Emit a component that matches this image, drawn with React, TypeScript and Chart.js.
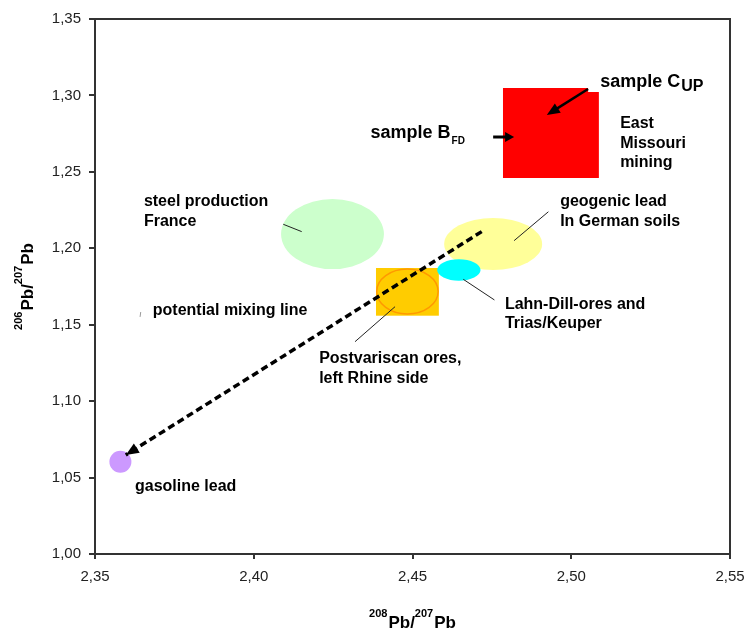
import React, { useEffect, useRef } from "react";
import { Chart, registerables } from "chart.js";

Chart.register(...registerables);

// ---- axes ----
const xTicks = [2.35, 2.4, 2.45, 2.5, 2.55];
const yTicks = [1.0, 1.05, 1.1, 1.15, 1.2, 1.25, 1.3, 1.35];

// ---- isotope fields: [centre 208/207, centre 206/207, half-width, half-height] ----
const steelFrance = [2.4248, 1.2093, 0.0162, 0.0229];
const geogenicSoils = [2.4754, 1.2028, 0.01543, 0.01701];
const lahnDill = [2.4646, 1.1858, 0.00683, 0.007];
const gasoline = [2.358, 1.0604, 0.003465, 0.0072];
const postvariscanEllipse = [2.4484, 1.1717, 0.00967, 0.01472];
// rectangular fields: [x min, x max, y min, y max]
const postvariscanBox = [2.4385, 2.4583, 1.1559, 1.1871];
// East Missouri mining polygon (x, y)
const eastMissouriX = [2.4785, 2.5053, 2.5053, 2.5087, 2.5087, 2.4785];
const eastMissouriY = [1.3049, 1.3049, 1.3022, 1.3022, 1.246, 1.246];

// ---- potential mixing line (start, end = gasoline lead) ----
const mixingX = [2.4718, 2.3597];
const mixingY = [1.2109, 1.0648];

// ---- sample arrows [x1, y1, x2, y2] ----
const arrowSampleC = [2.5053, 1.3042, 2.4923, 1.2872];
const arrowSampleB = [2.4754, 1.2728, 2.482, 1.2728];

// ---- leader lines [x1, y1, x2, y2] ----
const leaderSteel = [2.4093, 1.2157, 2.4151, 1.2109];
const leaderGeogenic = [2.4928, 1.2239, 2.482, 1.205];
const leaderLahn = [2.4758, 1.1662, 2.466, 1.1797];
const leaderPostvariscan = [2.4319, 1.1389, 2.4445, 1.1618];
const leaderMixing = [2.3644, 1.1583, 2.3642, 1.1551];

// ---- text labels: anchor (x, y) of first baseline ----
const labelTexts = [
  ["steel production", "France"],
  ["potential mixing line"],
  ["geogenic lead", "In German soils"],
  ["Lahn-Dill-ores and", "Trias/Keuper"],
  ["Postvariscan ores,", "left Rhine side"],
  ["gasoline lead"],
  ["East", "Missouri", "mining"],
];
const labelX = [2.3654, 2.3682, 2.4965, 2.4791, 2.4206, 2.3626, 2.5154];
const labelY = [1.2277, 1.1564, 1.2277, 1.1603, 1.1248, 1.0412, 1.2785];
const labelLineGap = [20.5, 0, 20, 19.5, 20, 0, 19.5];

const sampleCAnchor = [2.5091, 1.3057];
const sampleBAnchor = [2.4368, 1.272];

const FONT = '"Liberation Sans", Arial, Helvetica, sans-serif';
const fmt = (v: number) => v.toFixed(2).replace(".", ",");

function arrowHead(ctx: CanvasRenderingContext2D, x1: number, y1: number, x2: number, y2: number, len: number, wid: number) {
  const a = Math.atan2(y2 - y1, x2 - x1);
  const bx = x2 - len * Math.cos(a);
  const by = y2 - len * Math.sin(a);
  const nx = -Math.sin(a) * wid / 2;
  const ny = Math.cos(a) * wid / 2;
  ctx.beginPath();
  ctx.moveTo(x2, y2);
  ctx.lineTo(bx + nx, by + ny);
  ctx.lineTo(bx - nx, by - ny);
  ctx.closePath();
  ctx.fill();
}

const fieldsPlugin = {
  id: "fields",
  beforeDatasetsDraw(chart: any) {
    const { ctx, chartArea, scales } = chart;
    const X = (v: number) => scales.x.getPixelForValue(v);
    const Y = (v: number) => scales.y.getPixelForValue(v);
    ctx.save();
    ctx.beginPath();
    ctx.rect(chartArea.left, chartArea.top, chartArea.right - chartArea.left, chartArea.bottom - chartArea.top);
    ctx.clip();
    const ell = (f: number[], fill: string | null, stroke?: string) => {
      const cx = X(f[0]), cy = Y(f[1]);
      const rx = Math.abs(X(f[0] + f[2]) - cx), ry = Math.abs(Y(f[1] + f[3]) - cy);
      ctx.beginPath();
      ctx.ellipse(cx, cy, rx, ry, 0, 0, Math.PI * 2);
      if (fill) { ctx.fillStyle = fill; ctx.fill(); }
      if (stroke) { ctx.strokeStyle = stroke; ctx.lineWidth = 1.5; ctx.stroke(); }
    };
    ell(steelFrance, "#CCFFCC");
    ell(geogenicSoils, "#FFFF99");
    // Postvariscan box + ellipse
    ctx.fillStyle = "#FFCC00";
    const bx0 = X(postvariscanBox[0]), bx1 = X(postvariscanBox[1]);
    const by0 = Y(postvariscanBox[3]), by1 = Y(postvariscanBox[2]);
    ctx.fillRect(bx0, by0, bx1 - bx0, by1 - by0);
    ell(postvariscanEllipse, null, "#FF9900");
    ell(lahnDill, "#00FFFF");
    // East Missouri
    ctx.beginPath();
    eastMissouriX.forEach((v, i) => {
      if (i === 0) ctx.moveTo(X(v), Y(eastMissouriY[i]));
      else ctx.lineTo(X(v), Y(eastMissouriY[i]));
    });
    ctx.closePath();
    ctx.fillStyle = "#FF0000";
    ctx.fill();
    ell(gasoline, "#CC99FF");
    ctx.restore();
  },
  afterDatasetsDraw(chart: any) {
    const { ctx, chartArea, scales } = chart;
    const X = (v: number) => scales.x.getPixelForValue(v);
    const Y = (v: number) => scales.y.getPixelForValue(v);
    ctx.save();
    // mixing line arrowhead
    ctx.fillStyle = "#000";
    arrowHead(ctx, X(mixingX[0]), Y(mixingY[0]), X(mixingX[1]), Y(mixingY[1]), 13, 11);

    // leader lines
    ctx.strokeStyle = "#222";
    ctx.lineWidth = 1;
    [leaderSteel, leaderGeogenic, leaderLahn, leaderPostvariscan].forEach((l) => {
      ctx.beginPath();
      ctx.moveTo(X(l[0]), Y(l[1]));
      ctx.lineTo(X(l[2]), Y(l[3]));
      ctx.stroke();
    });
    ctx.strokeStyle = "#999";
    ctx.beginPath();
    ctx.moveTo(X(leaderMixing[0]), Y(leaderMixing[1]));
    ctx.lineTo(X(leaderMixing[2]), Y(leaderMixing[3]));
    ctx.stroke();

    // sample arrows
    const drawArrow = (a: number[], lw: number, len: number, wid: number) => {
      const x1 = X(a[0]), y1 = Y(a[1]), x2 = X(a[2]), y2 = Y(a[3]);
      const ang = Math.atan2(y2 - y1, x2 - x1);
      ctx.strokeStyle = "#000";
      ctx.lineWidth = lw;
      ctx.beginPath();
      ctx.moveTo(x1, y1);
      ctx.lineTo(x2 - (len - 2) * Math.cos(ang), y2 - (len - 2) * Math.sin(ang));
      ctx.stroke();
      ctx.fillStyle = "#000";
      arrowHead(ctx, x1, y1, x2, y2, len, wid);
    };
    drawArrow(arrowSampleC, 2.5, 13, 11);
    drawArrow(arrowSampleB, 3, 9, 10);

    // labels
    ctx.fillStyle = "#000";
    ctx.textAlign = "left";
    ctx.textBaseline = "alphabetic";
    ctx.font = `bold 16px ${FONT}`;
    labelTexts.forEach((lines, i) => {
      const x = X(labelX[i]);
      const y = Y(labelY[i]);
      lines.forEach((t, j) => ctx.fillText(t, x, y + j * labelLineGap[i]));
    });
    // sample C_UP
    let sx = X(sampleCAnchor[0]);
    let sy = Y(sampleCAnchor[1]);
    ctx.font = `bold 18px ${FONT}`;
    ctx.fillText("sample C", sx, sy);
    sx += ctx.measureText("sample C").width + 1;
    ctx.font = `bold 16px ${FONT}`;
    ctx.fillText("UP", sx, sy + 4);
    // sample B_FD
    sx = X(sampleBAnchor[0]);
    sy = Y(sampleBAnchor[1]);
    ctx.font = `bold 18px ${FONT}`;
    ctx.fillText("sample B", sx, sy);
    sx += ctx.measureText("sample B").width + 1;
    ctx.font = `bold 10px ${FONT}`;
    ctx.fillText("FD", sx, sy + 6);

    // frame top & right
    ctx.strokeStyle = "#333";
    ctx.lineWidth = 2;
    ctx.beginPath();
    ctx.moveTo(chartArea.left, chartArea.top);
    ctx.lineTo(chartArea.right, chartArea.top);
    ctx.lineTo(chartArea.right, chartArea.bottom);
    ctx.stroke();
    ctx.restore();
  },
  afterDraw(chart: any) {
    const { ctx, chartArea } = chart;
    const parts: [string, boolean][] = [["208", true], ["Pb/", false], ["207", true], ["Pb", false]];
    const partsY: [string, boolean][] = [["206", true], ["Pb/", false], ["207", true], ["Pb", false]];
    const big = `bold 17px ${FONT}`;
    const small = `bold 11px ${FONT}`;
    const measure = (p: [string, boolean][]) => {
      let w = 0;
      p.forEach(([t, s]) => { ctx.font = s ? small : big; w += ctx.measureText(t).width + (s ? 1 : 0); });
      return w;
    };
    const drawParts = (p: [string, boolean][], x0: number, base: number) => {
      let x = x0;
      p.forEach(([t, s]) => {
        ctx.font = s ? small : big;
        ctx.fillText(t, x, s ? base - 11 : base);
        x += ctx.measureText(t).width + (s ? 1 : 0);
      });
    };
    ctx.save();
    ctx.fillStyle = "#000";
    ctx.textAlign = "left";
    ctx.textBaseline = "alphabetic";
    const cx = (chartArea.left + chartArea.right) / 2;
    const w = measure(parts);
    drawParts(parts, cx - w / 2, chartArea.bottom + 73.5);
    const cy = (chartArea.top + chartArea.bottom) / 2;
    const wy = measure(partsY);
    ctx.translate(32.5, cy + wy / 2);
    ctx.rotate(-Math.PI / 2);
    drawParts(partsY, 0, 0);
    ctx.restore();
  },
};

export default function App() {
  const ref = useRef<HTMLCanvasElement | null>(null);
  useEffect(() => {
    if (!ref.current) return;
    const tickFont = { family: FONT, size: 15 };
    const chart = new Chart(ref.current, {
      type: "scatter",
      data: {
        datasets: [
          {
            data: mixingX.map((x, i) => ({ x, y: mixingY[i] })),
            showLine: true,
            borderColor: "#000",
            borderWidth: 3.5,
            borderDash: [7, 4],
            pointRadius: 0,
            fill: false,
          } as any,
        ],
      },
      options: {
        responsive: false,
        animation: false,
        devicePixelRatio: 1,
        layout: { padding: { top: 19, right: 17, left: 0, bottom: 0 } },
        plugins: { legend: { display: false }, tooltip: { enabled: false } },
        scales: {
          x: {
            type: "linear",
            min: 2.35,
            max: 2.55,
            afterBuildTicks: (s: any) => { s.ticks = xTicks.map((v) => ({ value: v })); },
            afterFit: (s: any) => { s.height = 77; s.paddingRight = 0; s.paddingLeft = 0; },
            grid: { drawOnChartArea: false, drawTicks: true, tickLength: 5, color: "#333", lineWidth: 2 },
            border: { display: true, color: "#333", width: 2 },
            ticks: { font: tickFont, color: "#222", padding: 9, maxRotation: 0, autoSkip: false, callback: (v: any) => fmt(Number(v)) },
          },
          y: {
            type: "linear",
            min: 1.0,
            max: 1.35,
            afterBuildTicks: (s: any) => { s.ticks = yTicks.map((v) => ({ value: v })); },
            afterFit: (s: any) => { s.width = 95; s.paddingTop = 0; s.paddingBottom = 0; },
            grid: { drawOnChartArea: false, drawTicks: true, tickLength: 6, color: "#333", lineWidth: 2 },
            border: { display: true, color: "#333", width: 2 },
            ticks: { font: tickFont, color: "#222", padding: 8, autoSkip: false, callback: (v: any) => fmt(Number(v)) },
          },
        },
      } as any,
      plugins: [fieldsPlugin],
    });
    return () => chart.destroy();
  }, []);
  return (
    <div style={{ position: "absolute", left: 0, top: 0, width: 747, height: 631, background: "#fff" }}>
      <canvas ref={ref} width={747} height={631} style={{ display: "block" }} />
    </div>
  );
}
